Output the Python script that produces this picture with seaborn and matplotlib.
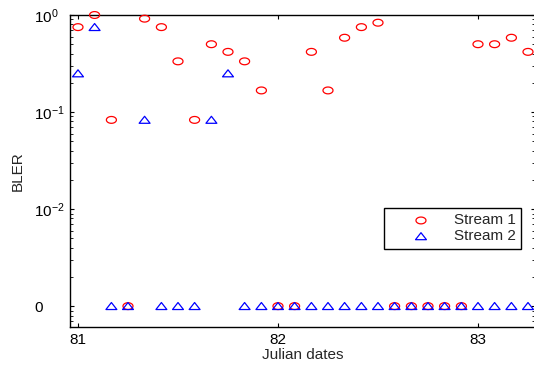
import numpy as np
import pandas as pd
import matplotlib
matplotlib.use("Agg")
import matplotlib.pyplot as plt
from matplotlib.path import Path
from matplotlib.ticker import FixedLocator, FuncFormatter, LogLocator, NullLocator
import seaborn as sns

# Measurement times (Julian day), one every two hours
julian_dates = [81.000, 81.083, 81.167, 81.250, 81.333, 81.417, 81.500,
                81.583, 81.667, 81.750, 81.833, 81.917, 82.000, 82.083,
                82.167, 82.250, 82.333, 82.417, 82.500, 82.583, 82.667,
                82.750, 82.833, 82.917, 83.000, 83.083, 83.167, 83.250]

# Block error rate per stream (0 = no block errors)
bler_stream1 = [0.750, 1.000, 0.083, 0.000, 0.917, 0.750, 0.333,
                0.083, 0.500, 0.417, 0.333, 0.167, 0.000, 0.000,
                0.417, 0.167, 0.583, 0.750, 0.833, 0.000, 0.000,
                0.000, 0.000, 0.000, 0.500, 0.500, 0.583, 0.417]
bler_stream2 = [0.250, 0.750, 0.000, 0.000, 0.083, 0.000, 0.000,
                0.000, 0.083, 0.250, 0.000, 0.000, 0.000, 0.000,
                0.000, 0.000, 0.000, 0.000, 0.000, 0.000, 0.000,
                0.000, 0.000, 0.000, 0.000, 0.000, 0.000, 0.000]

stream_names = ["Stream 1", "Stream 2"]
x_ticks = [81, 82, 83]
y_ticks = [1e-3, 1e-2, 1e-1, 1e0]
y_tick_labels = ["0", r"$10^{-2}$", r"$10^{-1}$", r"$10^{0}$"]

# Zero BLER cannot sit on a log axis: show it on the 1e-3 line labelled "0"
ZERO_LEVEL = 1e-3
FONT_SIZE = 11

sns.set_style("ticks")
plt.rcParams["font.family"] = ["Liberation Sans", "DejaVu Sans"]
plt.rcParams["mathtext.default"] = "regular"
plt.rcParams["axes.linewidth"] = 1.0

df = pd.DataFrame({
    "date": julian_dates * 2,
    "bler": bler_stream1 + bler_stream2,
    "stream": [stream_names[0]] * len(julian_dates) + [stream_names[1]] * len(julian_dates),
})
df["bler_plot"] = df["bler"].where(df["bler"] > 0, ZERO_LEVEL)

# Slightly flattened marker outlines
theta = np.linspace(0, 2 * np.pi, 61)
oval = Path(np.column_stack([np.cos(theta), 0.68 * np.sin(theta)]))
tri = Path([(-1.0, -0.62), (1.0, -0.62), (0.0, 0.66), (-1.0, -0.62)],
           [Path.MOVETO, Path.LINETO, Path.LINETO, Path.CLOSEPOLY])

fig = plt.figure(figsize=(5.34, 3.66), dpi=100)
ax = fig.add_axes([70 / 534, 1 - 327 / 366, 465 / 534, 312 / 366])
ax.set_yscale("log")

styles = {
    stream_names[0]: dict(marker=oval, s=52, edgecolor="#ff0000"),
    stream_names[1]: dict(marker=tri, s=62, edgecolor="#0000ff"),
}
for name in stream_names:
    sub = df[df["stream"] == name]
    sns.scatterplot(x=sub["date"].to_numpy(), y=sub["bler_plot"].to_numpy(),
                    facecolors="none", linewidth=0.9, label=name,
                    clip_on=False, zorder=3, ax=ax, **styles[name])

ax.set_xlim(80.96, 83.285)
ax.set_ylim(10 ** -3.215, 1.0)

ax.xaxis.set_major_locator(FixedLocator(x_ticks))
ax.xaxis.set_major_formatter(FuncFormatter(lambda v, p: f"{v:.0f}"))
ax.xaxis.set_minor_locator(NullLocator())
ax.yaxis.set_major_locator(FixedLocator(y_ticks))
ax.yaxis.set_major_formatter(FuncFormatter(
    lambda v, p: y_tick_labels[int(np.argmin([abs(np.log10(v) - np.log10(t)) for t in y_ticks]))]))
ax.yaxis.set_minor_locator(LogLocator(base=10, subs=np.arange(2, 10), numticks=20))

for s in ax.spines.values():
    s.set_visible(True)
    s.set_color("black")
    s.set_linewidth(1.0)

ax.tick_params(axis="both", which="both", direction="in", top=True, right=True,
               color="black", labelsize=FONT_SIZE, labelcolor="black")
ax.tick_params(axis="both", which="major", length=3.0, width=0.8)
ax.tick_params(axis="both", which="minor", length=2.0, width=0.6)
ax.tick_params(axis="x", pad=4.5)
ax.tick_params(axis="y", pad=26)
for lab in ax.get_yticklabels():
    lab.set_horizontalalignment("left")

ax.set_xlabel("Julian dates", fontsize=FONT_SIZE, labelpad=0.5)
ax.set_ylabel("BLER", fontsize=FONT_SIZE)
ax.yaxis.set_label_coords(-0.098, 0.5)

leg = ax.legend(loc="upper right", bbox_to_anchor=(0.970, 0.381),
                borderaxespad=0, frameon=True, fancybox=False, framealpha=1,
                edgecolor="black", fontsize=FONT_SIZE, handlelength=4.2,
                handletextpad=0.05, labelspacing=0.12, borderpad=0.35,
                scatterpoints=1)
leg.get_frame().set_linewidth(1.0)

fig.savefig("out.png", dpi=100)
